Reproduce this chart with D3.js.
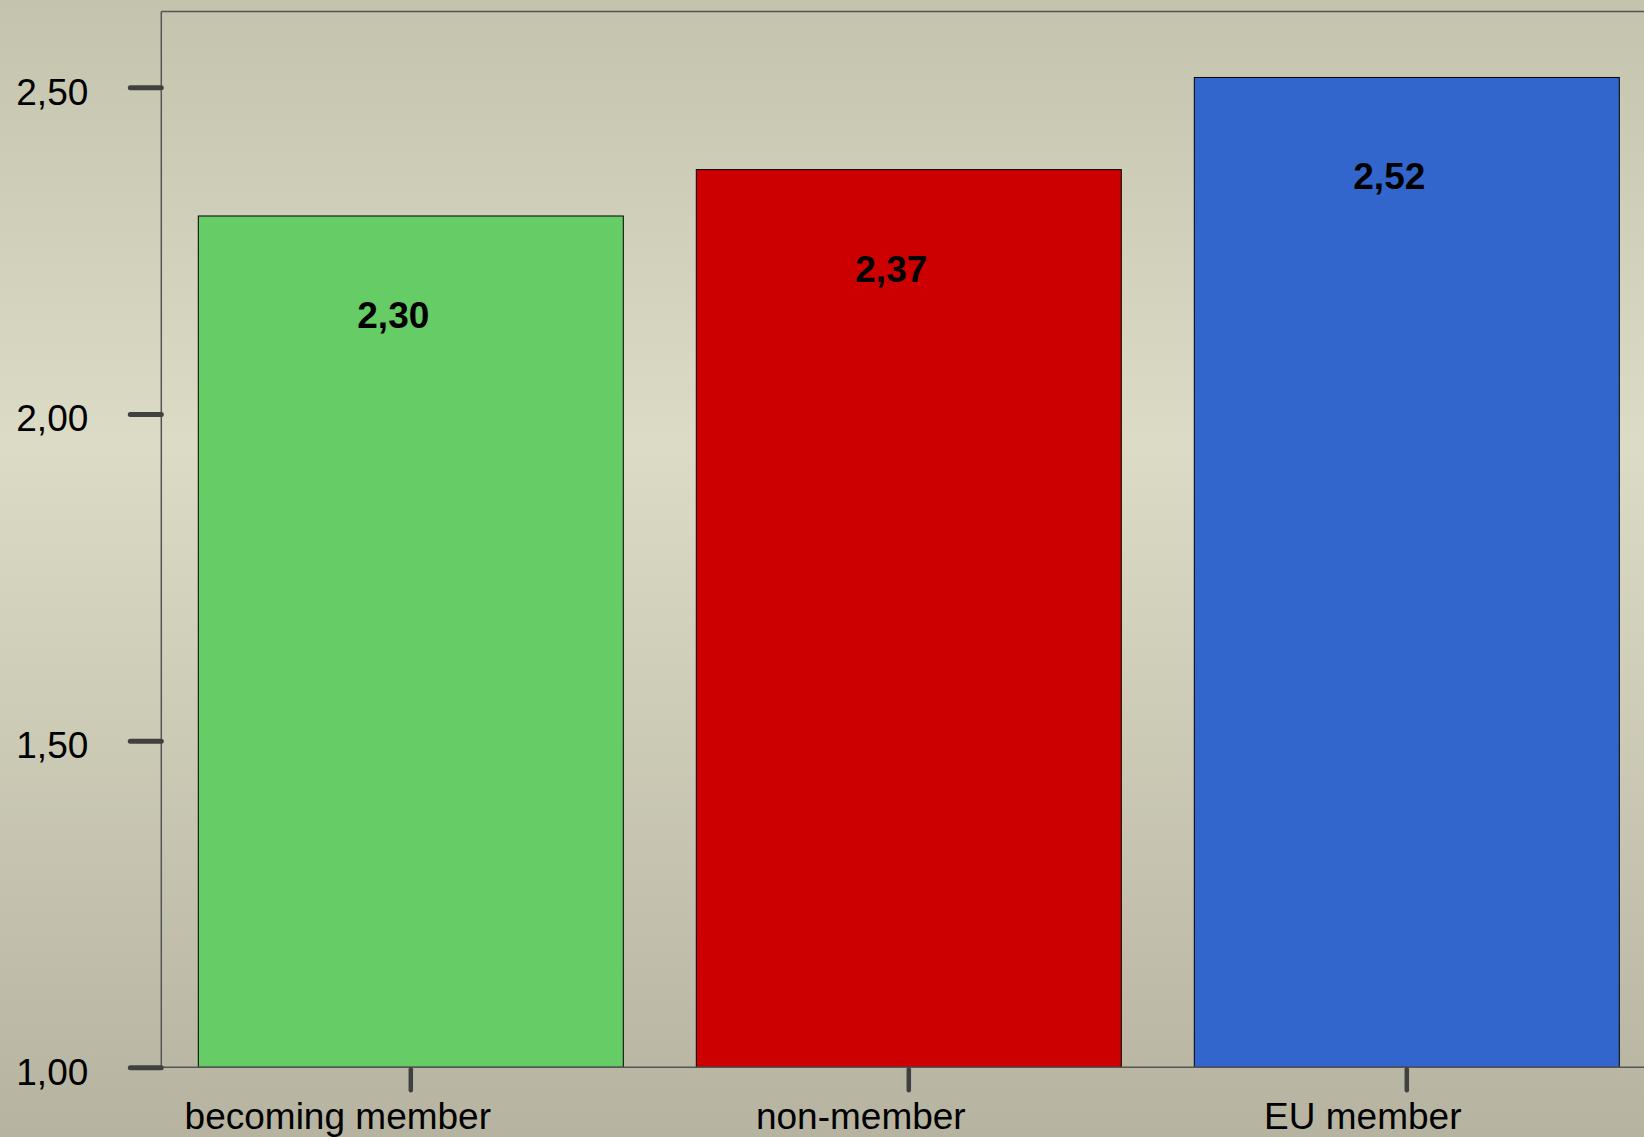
<!DOCTYPE html>
<html>
<head>
<meta charset="utf-8">
<script src="https://cdn.jsdelivr.net/npm/d3@7"></script>
<style>
  html, body { margin: 0; padding: 0; overflow: hidden; }
  svg { display: block; }
</style>
</head>
<body>
<svg id="chart" width="1644" height="1137"></svg>
<script>
// ---- data ----
const categories = ["becoming member", "non-member", "EU member"];
const values = [2.303, 2.374, 2.515];
const barColors = ["#66cc66", "#cc0000", "#3366cc"];
const yTicks = [1.0, 1.5, 2.0, 2.5];

// ---- layout ----
const W = 1644, H = 1137;
const axisX = 161.3, topY = 11.5, baseY = 1067.3;
const yDomain = [1.0, 2.616];
const catLabelDx = [-73, -48, -44];
const valueLabelDx = -17.5;

const svg = d3.select("#chart");
const defs = svg.append("defs");
const grad = defs.append("linearGradient").attr("id", "bg")
  .attr("x1", 0).attr("y1", 0).attr("x2", 0).attr("y2", 1);
[[0, "#c4c3ae"], [0.39, "#dcdbc5"], [1, "#b6b4a1"]].forEach(([o, c]) =>
  grad.append("stop").attr("offset", o).attr("stop-color", c));
svg.append("rect").attr("width", W).attr("height", H).attr("fill", "url(#bg)");

const y = d3.scaleLinear().domain(yDomain).range([baseY, topY]);
const x = d3.scaleBand().domain(categories)
  .range([axisX, 1656.3]).paddingInner(0.1466).paddingOuter(0.0743);

const comma = v => d3.format(".2f")(v).replace(".", ",");

// frame: top line
svg.append("line").attr("x1", axisX).attr("x2", W).attr("y1", topY).attr("y2", topY)
  .attr("stroke", "#555").attr("stroke-width", 1.5);

// bars
svg.append("g").selectAll("rect").data(values).join("rect")
  .attr("x", (d, i) => x(categories[i]))
  .attr("y", d => y(d))
  .attr("width", x.bandwidth())
  .attr("height", d => y(yDomain[0]) - y(d))
  .attr("fill", (d, i) => barColors[i])
  .attr("stroke", "#000").attr("stroke-width", 1);

// baseline and left line
svg.append("line").attr("x1", axisX).attr("x2", W).attr("y1", baseY).attr("y2", baseY)
  .attr("stroke", "#555").attr("stroke-width", 1.5);
svg.append("line").attr("x1", axisX).attr("x2", axisX).attr("y1", topY).attr("y2", baseY)
  .attr("stroke", "#555").attr("stroke-width", 1.5);

// y axis
const yAxis = d3.axisLeft(y).tickValues(yTicks).tickFormat(comma).tickSize(33).tickPadding(0);
const gy = svg.append("g").attr("transform", `translate(${axisX},0)`).call(yAxis);
gy.select(".domain").remove();
gy.selectAll(".tick line").attr("stroke", "#404040").attr("stroke-width", 5)
  .attr("stroke-linecap", "round").attr("x1", 0).attr("x2", -31);
gy.selectAll(".tick text").attr("x", -73).attr("dy", null).attr("y", 17)
  .attr("font-family", "Liberation Sans, Arial, sans-serif").attr("font-size", 37)
  .attr("fill", "#000").attr("text-anchor", "end");

// x axis
const xAxis = d3.axisBottom(x).tickSize(22).tickPadding(0);
const gx = svg.append("g").attr("transform", `translate(0,${baseY})`).call(xAxis);
gx.select(".domain").remove();
gx.selectAll(".tick line").attr("stroke", "#404040").attr("stroke-width", 4.5)
  .attr("stroke-linecap", "round").attr("y1", 2).attr("y2", 23);
gx.selectAll(".tick text").attr("dy", null).attr("y", 62)
  .attr("x", (d, i) => catLabelDx[i])
  .attr("font-family", "Liberation Sans, Arial, sans-serif").attr("font-size", 37)
  .attr("fill", "#000").attr("text-anchor", "middle");

// value labels
svg.append("g").selectAll("text").data(values).join("text")
  .attr("x", (d, i) => x(categories[i]) + x.bandwidth() / 2 + valueLabelDx)
  .attr("y", d => y(d) + 112)
  .attr("text-anchor", "middle")
  .attr("font-family", "Liberation Sans, Arial, sans-serif")
  .attr("font-weight", "bold").attr("font-size", 37).attr("fill", "#000")
  .text(d => comma(d));
</script>
</body>
</html>
